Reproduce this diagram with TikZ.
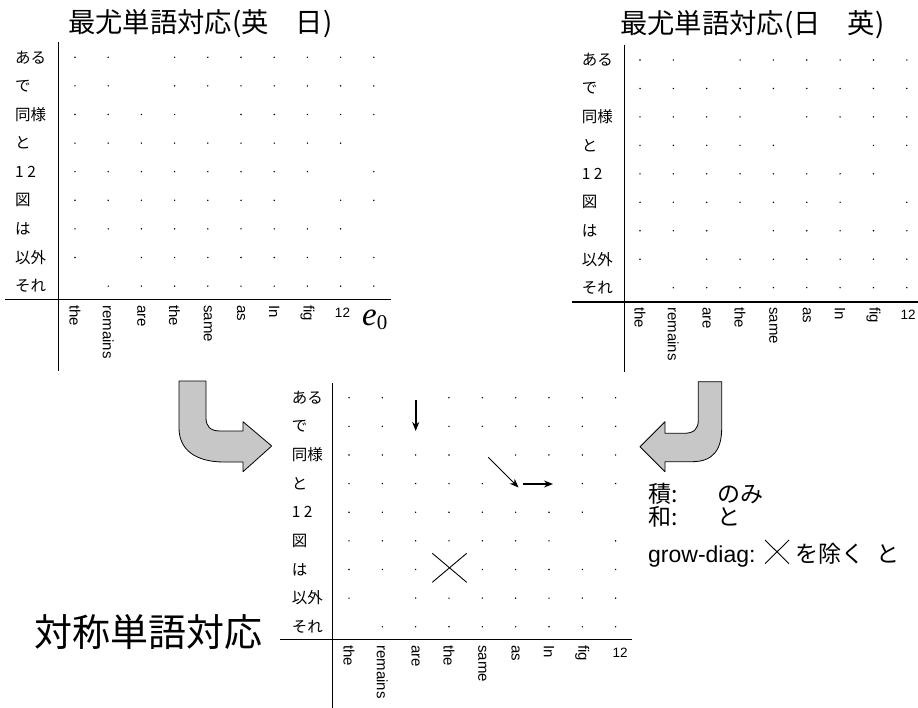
\documentclass[tikz,border=0pt]{standalone}
\usepackage{fontspec}
\setmainfont{Liberation Sans}
\newfontfamily\jp{Noto Sans CJK JP}
\newfontfamily\tms{Liberation Serif}
\usetikzlibrary{arrows.meta}
\newcommand\miss[3]{\expandafter\gdef\csname mm-#1-#2-#3\endcsname{}}
% top-left (English -> Japanese)
\miss{TL}{1}{3}\miss{TL}{2}{3}\miss{TL}{3}{5}\miss{TL}{4}{10}\miss{TL}{5}{9}
\miss{TL}{6}{8}\miss{TL}{7}{10}\miss{TL}{8}{2}\miss{TL}{9}{1}
% top-right
\miss{TR}{1}{3}\miss{TR}{3}{5}\miss{TR}{4}{6}\miss{TR}{4}{7}\miss{TR}{5}{9}
\miss{TR}{6}{8}\miss{TR}{7}{4}\miss{TR}{8}{2}\miss{TR}{9}{1}
% bottom
\miss{BM}{1}{3}\miss{BM}{2}{3}\miss{BM}{3}{5}\miss{BM}{4}{6}\miss{BM}{4}{7}\miss{BM}{5}{9}
\miss{BM}{6}{8}\miss{BM}{7}{4}\miss{BM}{8}{2}\miss{BM}{9}{1}
\begin{document}
\begin{tikzpicture}[x=1pt,y=-1pt,
  rowlab/.style={font=\jp\fontsize{15.5}{15.5}\selectfont, anchor=west, inner sep=0pt},
  collab/.style={font=\fontsize{15}{15}\selectfont, rotate=-90, anchor=west, inner sep=0pt},
  numlab/.style={font=\fontsize{13.5}{13.5}\selectfont, inner sep=0pt},
  titlelab/.style={font=\jp\fontsize{27.3}{27.3}\selectfont, anchor=west, inner sep=0pt},
  legjp/.style={font=\jp\fontsize{23}{23}\selectfont, anchor=base west, inner sep=0pt},
  legen/.style={font=\fontsize{23}{23}\selectfont, anchor=base west, inner sep=0pt},
  axisline/.style={line width=1.2pt},
  blockarrow/.style={fill=black!22, draw=black, line width=0.8pt, line join=round},
  thinx/.style={line width=0.9pt},
  alarrow/.style={-{Stealth[length=9pt,width=7pt]}},
]
\useasboundingbox (0,0) rectangle (918,708);

% ================= top-left grid =================
\node[titlelab] (TLtitle) at (68,24) {最尤単語対応(英　日)};
\draw[axisline] (58.5,42) -- (58.5,371);
\draw[axisline] (5,299.5) -- (391,299.5);
\foreach \r in {1,...,9}{
  \foreach \c in {1,...,10}{
    \ifcsname mm-TL-\r-\c\endcsname\else
      \fill ({75+33.2*(\c-1)},{57.3+28.6*(\r-1)}) circle (0.8);
    \fi
  }
}
\foreach \t [count=\i] in {ある,で,同様,と,1 2,図,は,以外,それ}
  \node[rowlab] (TLr\i) at (15,{57.3+28.6*(\i-1)}) {\t};
\foreach \t [count=\i] in {the,remains,are,the,same,as,In,fig}
  \node[collab] (TLc\i) at ({75+33.2*(\i-1)},305) {\t};
\node[numlab] (TLc9) at (342.5,313) {12};
\node[inner sep=0pt, anchor=base west] (TLc10) at (362,326)
  {\tms\fontsize{33}{33}\selectfont\itshape e\upshape\raisebox{-4pt}{\fontsize{21}{21}\selectfont 0}};

% ================= top-right grid =================
\node[titlelab] (TRtitle) at (620,25) {最尤単語対応(日　英)};
\draw[axisline] (624.3,45) -- (624.3,372);
\draw[axisline] (572,302) -- (918,302);
\foreach \r in {1,...,9}{
  \foreach \c in {1,...,9}{
    \ifcsname mm-TR-\r-\c\endcsname\else
      \fill ({640+33.35*(\c-1)},{60+28.46*(\r-1)}) circle (0.8);
    \fi
  }
}
\foreach \t [count=\i] in {ある,で,同様,と,1 2,図,は,以外,それ}
  \node[rowlab] (TRr\i) at (581.7,{60+28.46*(\i-1)}) {\t};
\foreach \t [count=\i] in {the,remains,are,the,same,as,In,fig}
  \node[collab] (TRc\i) at ({640+33.35*(\i-1)},307) {\t};
\node[numlab] (TRc9) at (908,315) {12};

% ================= bottom grid =================
\draw[axisline] (332.7,383) -- (332.7,708);
\draw[axisline] (280,639.3) -- (632,639.3);
\foreach \r in {1,...,9}{
  \foreach \c in {1,...,9}{
    \ifcsname mm-BM-\r-\c\endcsname\else
      \fill ({349+33.33*(\c-1)},{397.7+28.63*(\r-1)}) circle (0.8);
    \fi
  }
}
\foreach \t [count=\i] in {ある,で,同様,と,1 2,図,は,以外,それ}
  \node[rowlab] (BMr\i) at (291.7,{397.7+28.63*(\i-1)}) {\t};
\foreach \t [count=\i] in {the,remains,are,the,same,as,In,fig}
  \node[collab] (BMc\i) at ({349+33.33*(\i-1)},645) {\t};
\node[numlab] (BMc9) at (620,653) {12};

% arrows inside the bottom grid
\coordinate (va1) at (415.7,400);
\coordinate (va2) at (415.7,431);
\coordinate (da1) at (488.3,457.3);
\coordinate (da2) at (518.5,487.5);
\coordinate (ha1) at (522.7,484);
\coordinate (ha2) at (553,484);
\draw[alarrow, line width=1.6pt] (va1) -- (va2);
\draw[alarrow, line width=0.9pt] (da1) -- (da2);
\draw[alarrow, line width=1.4pt] (ha1) -- (ha2);
% cross
\draw[thinx] (432.3,553.3) -- (466.7,582.3);
\draw[thinx] (432.3,582.3) -- (466.7,553.3);

\node[font=\jp\fontsize{38}{38}\selectfont, anchor=west, inner sep=0pt] (sym) at (34,632) {対称単語対応};

% ================= block arrows =================
\draw[blockarrow] (179,381) -- (206,381) -- (206,418)
  .. controls (206,426) and (210,431) .. (220,431) -- (243,431) -- (243,421.7)
  -- (271.7,446) -- (243,471.7) -- (243,462) -- (224,462)
  .. controls (196,462) and (179,450) .. (179,428) -- cycle;
\draw[blockarrow] (721.7,381.7) -- (698.3,381.7) -- (698.3,420)
  .. controls (698.3,429) and (694,433.3) .. (684,433.3) -- (665,433.3) -- (665,421.7)
  -- (640,446.7) -- (665,471.7) -- (665,461.7) -- (692,461.7)
  .. controls (713,461.7) and (721.7,450) .. (721.7,428) -- cycle;

% ================= legend =================
\node[legjp] (l1a) at (648,502) {積:};
\node[legjp] (l1b) at (717,502) {のみ};
\node[legjp] (l2a) at (648,525) {和:};
\node[legjp] (l2b) at (717,525) {と};
\node[legen] (l3a) at (648,562) {grow-diag:};
\draw[thinx] (765,540) -- (789,563.7);
\draw[thinx] (765,563.7) -- (789,540);
\node[legjp] (l3b) at (795,562) {を除く};
\node[legjp] (l3c) at (876,562) {と};
\end{tikzpicture}
\end{document}
